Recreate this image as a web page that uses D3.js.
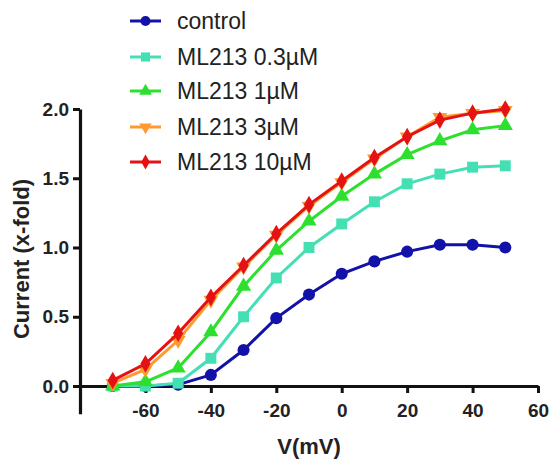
<!DOCTYPE html>
<html><head><meta charset="utf-8">
<script src="https://cdn.jsdelivr.net/npm/d3@7"></script>
<style>body{margin:0;background:#fff}svg{display:block}</style>
</head><body>
<svg id="c" width="551" height="461"></svg>
<script>
const voltages = [-70,-60,-50,-40,-30,-20,-10,0,10,20,30,40,50];
const control = [0.0, 0.0, 0.01, 0.08, 0.26, 0.49, 0.66, 0.81, 0.90, 0.97, 1.02, 1.02, 1.00];
const ml213_03 = [0.0, 0.0, 0.02, 0.20, 0.50, 0.78, 1.00, 1.17, 1.33, 1.46, 1.53, 1.58, 1.59];
const ml213_1 = [0.0, 0.03, 0.13, 0.39, 0.72, 0.98, 1.19, 1.37, 1.53, 1.67, 1.77, 1.85, 1.88];
const ml213_3 = [0.02, 0.12, 0.33, 0.62, 0.86, 1.09, 1.30, 1.47, 1.64, 1.80, 1.94, 1.97, 1.99];
const ml213_10 = [0.04, 0.16, 0.38, 0.64, 0.87, 1.10, 1.31, 1.48, 1.65, 1.80, 1.92, 1.97, 2.00];
const seriesNames = ["control", "ML213 0.3\u00b5M", "ML213 1\u00b5M", "ML213 3\u00b5M", "ML213 10\u00b5M"];
const xTicks = [-60,-40,-20,0,20,40,60];
const yTicks = [0,0.5,1.0,1.5,2.0];

const colors = ["#1212a8", "#44e0b4", "#2ee02e", "#ff9a30", "#e41212"];
const symbols = [d3.symbolCircle, d3.symbolSquare, d3.symbolTriangle, d3.symbolTriangle, d3.symbolDiamond];
const rotations = [0, 0, 0, 180, 0];
const sizes = [115, 120, 100, 95, 90];
const allValues = [control, ml213_03, ml213_1, ml213_3, ml213_10];

const svg = d3.select("#c");
const x = d3.scaleLinear().domain([-80, 60]).range([80, 538]);
const y = d3.scaleLinear().domain([-0.2, 2.0]).range([413.7, 109]);
const font = "'Liberation Sans', Arial, sans-serif";

// axes
const xAxis = svg.append("g").attr("transform", `translate(0,${y(0)})`)
  .call(d3.axisBottom(x).tickValues(xTicks).tickFormat(d => String(d)).tickSize(7).tickSizeOuter(0).tickPadding(6));
const yAxis = svg.append("g").attr("transform", `translate(${x(-80)},0)`)
  .call(d3.axisLeft(y).tickValues(yTicks).tickFormat(d => d.toFixed(1)).tickSize(7).tickSizeOuter(0).tickPadding(4));
[xAxis, yAxis].forEach(g => {
  g.select(".domain").attr("stroke", "#111").attr("stroke-width", 3.2);
  g.selectAll(".tick line").attr("stroke", "#111").attr("stroke-width", 3);
  g.selectAll(".tick text").attr("fill", "#222").style("font-family", font)
    .style("font-size", "19px").style("font-weight", "bold");
});
xAxis.selectAll(".tick text").attr("dy", "0.95em");

svg.append("text").attr("x", 309).attr("y", 454).attr("text-anchor", "middle")
  .style("font-family", font).style("font-size", "22px").style("font-weight", "bold")
  .attr("fill", "#222").text("V(mV)");
svg.append("text").attr("transform", "translate(29,259) rotate(-90)").attr("text-anchor", "middle")
  .style("font-family", font).style("font-size", "22px").style("font-weight", "bold")
  .attr("fill", "#222").text("Current (x-fold)");

// series
const line = d3.line().x((d, i) => x(voltages[i])).y(d => y(d));
allValues.forEach((vals, s) => {
  const g = svg.append("g");
  g.append("path").datum(vals).attr("d", line).attr("fill", "none")
    .attr("stroke", colors[s]).attr("stroke-width", 3);
  g.selectAll("path.m").data(vals).enter().append("path").attr("class", "m")
    .attr("d", d3.symbol().type(symbols[s]).size(sizes[s]))
    .attr("transform", (d, i) => `translate(${x(voltages[i])},${y(d)}) rotate(${rotations[s]})`)
    .attr("fill", colors[s]);
});

// legend
const legY = [21, 57, 91, 127, 162];
seriesNames.forEach((name, s) => {
  const g = svg.append("g").attr("transform", `translate(0,${legY[s]})`);
  g.append("line").attr("x1", 130).attr("x2", 161).attr("y1", 0).attr("y2", 0)
    .attr("stroke", colors[s]).attr("stroke-width", 3);
  g.append("path").attr("d", d3.symbol().type(symbols[s]).size(sizes[s] * 0.7))
    .attr("transform", `translate(145.5,0) rotate(${rotations[s]})`).attr("fill", colors[s]);
  g.append("text").attr("x", 177).attr("y", 0).attr("dy", "0.35em")
    .style("font-family", font).style("font-size", "23px").attr("fill", "#222").text(name);
});
</script>
</body></html>
